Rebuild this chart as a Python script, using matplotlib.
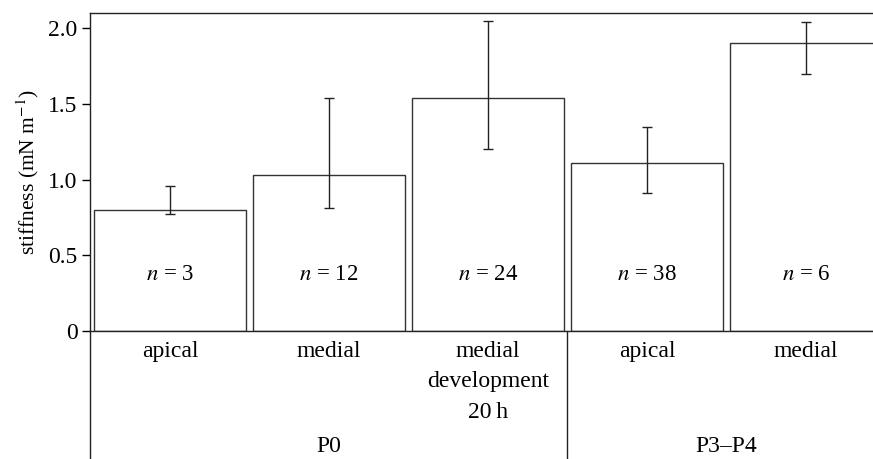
import numpy as np
import matplotlib
matplotlib.use("Agg")
import matplotlib.pyplot as plt

# data
labels = ["apical", "medial", "medial\ndevelopment\n20\u2009h", "apical", "medial"]
groups = ["P0", "P3\u2013P4"]
group_sizes = [3, 2]
stiffness = [0.80, 1.03, 1.54, 1.11, 1.90]
err_low = [0.77, 0.81, 1.20, 0.91, 1.70]
err_high = [0.96, 1.54, 2.05, 1.35, 2.04]
n_counts = [3, 12, 24, 38, 6]

plt.rcParams["font.family"] = ["Liberation Serif", "DejaVu Serif"]
plt.rcParams["mathtext.fontset"] = "stix"

fig = plt.figure(figsize=(8.73, 4.59), dpi=100)
ax = fig.add_axes([90 / 873, 128 / 459, 1 - 90 / 873, 318 / 459])

x = np.arange(len(stiffness))
vals = np.array(stiffness)
yerr = np.vstack([vals - np.array(err_low), np.array(err_high) - vals])
ax.bar(x, vals, width=0.956, color="white", edgecolor="#333333", linewidth=1.0, zorder=2)
ax.errorbar(x, vals, yerr=yerr, fmt="none", ecolor="#222222", elinewidth=1.0,
            capsize=3.4, capthick=1.0, zorder=3)

for xi, n in zip(x, n_counts):
    ax.text(xi, 0.37, f"$n$ = {n}", ha="center", va="center", fontsize=16.5)

ax.set_xlim(-0.503, 4.422)
ax.set_ylim(0, 2.1)
ax.set_yticks([0, 0.5, 1.0, 1.5, 2.0])
ax.set_yticklabels(["0", "0.5", "1.0", "1.5", "2.0"])
ax.tick_params(axis="y", direction="out", length=6, width=1, labelsize=17, pad=3)
ax.set_xticks([])
ax.set_ylabel("stiffness (mN m$^{-1}$)", fontsize=15.5, labelpad=5)

ax.spines["right"].set_visible(False)
for s in ["left", "top", "bottom"]:
    ax.spines[s].set_linewidth(1.0)
    ax.spines[s].set_color("#222222")

# category axis below the plot
trans = ax.get_xaxis_transform()
ax.plot([0, 0], [0, -0.41], transform=ax.transAxes, color="#222222", lw=1.0, clip_on=False)
for xi, lab in zip(x, labels):
    ax.text(xi, -0.03, lab, transform=trans, ha="center", va="top", fontsize=17,
            linespacing=1.62)

start = 0
for g, size in zip(groups, group_sizes):
    centre = start + (size - 1) / 2
    ax.text(centre, -0.362, g, transform=trans, ha="center", va="center", fontsize=17)
    start += size
    if start < len(stiffness):
        ax.plot([start - 0.5, start - 0.5], [0, -0.41], transform=trans,
                color="#222222", lw=1.0, clip_on=False)

fig.savefig("out.png", dpi=100)
